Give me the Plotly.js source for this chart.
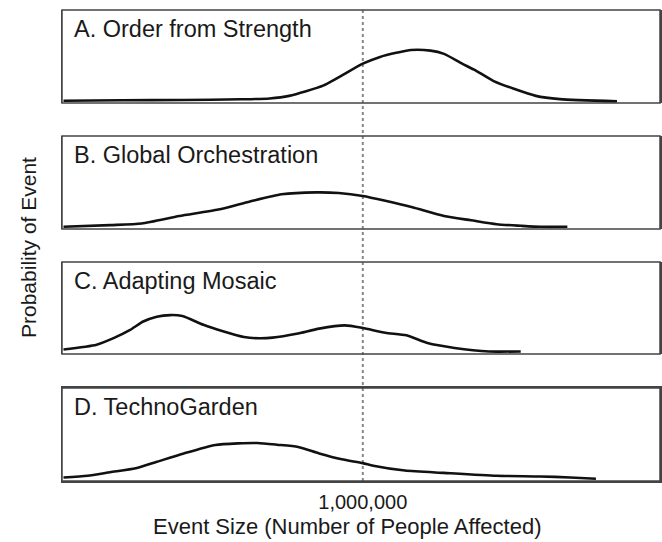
<!DOCTYPE html>
<html>
<head>
<meta charset="utf-8">
<script src="https://cdn.plot.ly/plotly-3.0.1.min.js"></script>
<style>html,body{margin:0;padding:0;background:#fff;}#chart{width:662px;height:542px;}</style>
</head>
<body>
<div id="chart"></div>
<script>
// Event size as log10(number of people affected); probability in relative units
const panelLabels = ["A. Order from Strength", "B. Global Orchestration", "C. Adapting Mosaic", "D. TechnoGarden"];

const sizeA = [4.01, 4.40, 4.80, 5.19, 5.38, 5.51, 5.74, 6.00, 6.11, 6.23, 6.32, 6.45, 6.54, 6.66, 6.74, 6.87, 7.00, 7.15, 7.31, 7.69];
const probA = [0.025, 0.030, 0.033, 0.040, 0.049, 0.077, 0.190, 0.423, 0.493, 0.542, 0.570, 0.563, 0.528, 0.423, 0.359, 0.236, 0.155, 0.077, 0.042, 0.018];

const sizeB = [4.01, 4.32, 4.53, 4.78, 5.04, 5.25, 5.46, 5.69, 5.84, 6.00, 6.15, 6.33, 6.54, 6.72, 6.89, 7.05, 7.18, 7.36];
const probB = [0.024, 0.042, 0.059, 0.139, 0.209, 0.296, 0.373, 0.394, 0.387, 0.355, 0.303, 0.233, 0.139, 0.094, 0.052, 0.035, 0.024, 0.024];

const sizeC = [4.01, 4.23, 4.35, 4.45, 4.54, 4.63, 4.72, 4.80, 4.94, 5.07, 5.21, 5.31, 5.40, 5.56, 5.71, 5.88, 6.00, 6.15, 6.29, 6.43, 6.61, 6.84, 7.05];
const probC = [0.049, 0.101, 0.178, 0.259, 0.353, 0.406, 0.423, 0.413, 0.318, 0.248, 0.185, 0.171, 0.178, 0.220, 0.276, 0.311, 0.283, 0.231, 0.203, 0.119, 0.066, 0.028, 0.028];

const sizeD = [4.01, 4.17, 4.32, 4.49, 4.63, 4.81, 5.02, 5.17, 5.30, 5.43, 5.57, 5.71, 5.86, 6.00, 6.07, 6.28, 6.54, 6.89, 7.18, 7.38, 7.55];
const probD = [0.038, 0.056, 0.094, 0.136, 0.206, 0.296, 0.387, 0.404, 0.408, 0.390, 0.366, 0.296, 0.233, 0.192, 0.164, 0.112, 0.087, 0.056, 0.049, 0.038, 0.024];

const tickVals = [6];
const tickText = ["1,000,000"];
const thresholdSize = 6;

const FONT = "Liberation Sans, Arial, Helvetica, sans-serif";
const sizes = [sizeA, sizeB, sizeC, sizeD];
const probs = [probA, probB, probC, probD];
const domains = [[0.8025, 1.0], [0.535, 0.7325], [0.2696, 0.465], [0.0, 0.1975]];

const traces = sizes.map((xs, i) => ({
  x: xs, y: probs[i], type: "scatter", mode: "lines",
  line: {color: "#111", width: 2.6, shape: "spline", smoothing: 0.6},
  xaxis: "x", yaxis: i === 0 ? "y" : "y" + (i + 1),
  hoverinfo: "skip", showlegend: false
}));

const layout = {
  width: 662, height: 542,
  margin: {l: 62, r: 2, t: 10, b: 61},
  paper_bgcolor: "#fff", plot_bgcolor: "#fff",
  font: {family: FONT, color: "#222", size: 20},
  showlegend: false,
  xaxis: {
    range: [4, 7.976], anchor: "y4", showgrid: false, zeroline: false,
    showline: true, mirror: true, linecolor: "#444", linewidth: 1.5,
    tickmode: "array", tickvals: tickVals, ticktext: tickText,
    ticks: "outside", ticklen: 2, tickcolor: "rgba(0,0,0,0)",
    tickfont: {family: FONT, size: 20, color: "#1a1a1a"}
  },
  annotations: [],
  shapes: []
};

domains.forEach((d, i) => {
  const key = i === 0 ? "yaxis" : "yaxis" + (i + 1);
  const yref = i === 0 ? "y" : "y" + (i + 1);
  layout[key] = {
    domain: d, range: [0, 1], showgrid: false, zeroline: false,
    showticklabels: false, ticks: "", showline: true, mirror: true,
    linecolor: "#444", linewidth: 1.5, anchor: "x"
  };
  layout.shapes.push({
    type: "rect", xref: "x domain", yref: yref + " domain",
    x0: 0, x1: 1, y0: 0, y1: 1, line: {color: "#444", width: 1.5}, layer: "above"
  });
  layout.annotations.push({
    text: panelLabels[i], xref: "x domain", yref: yref + " domain",
    x: 0.016, y: 0.795, xanchor: "left", yanchor: "middle", showarrow: false,
    font: {family: FONT, size: 23.5, color: "#1a1a1a"}
  });
});

layout.shapes.push({
  type: "line", xref: "x", yref: "paper", x0: thresholdSize, x1: thresholdSize, y0: 0, y1: 1,
  line: {color: "#888", width: 2, dash: "dot"}, layer: "below"
});

layout.annotations.push({
  text: "Event Size (Number of People Affected)", xref: "paper", yref: "paper",
  x: (347 - 62) / 598, y: -(526 - 481) / 471, xanchor: "center", yanchor: "middle", showarrow: false,
  font: {family: FONT, size: 22, color: "#1a1a1a"}
});
layout.annotations.push({
  text: "Probability of Event", xref: "paper", yref: "paper", textangle: -90,
  x: (28 - 62) / 598, y: (481 - 248) / 471, xanchor: "center", yanchor: "middle", showarrow: false,
  font: {family: FONT, size: 21, color: "#1a1a1a"}
});

Plotly.newPlot("chart", traces, layout, {displayModeBar: false, staticPlot: true});
</script>
</body>
</html>
